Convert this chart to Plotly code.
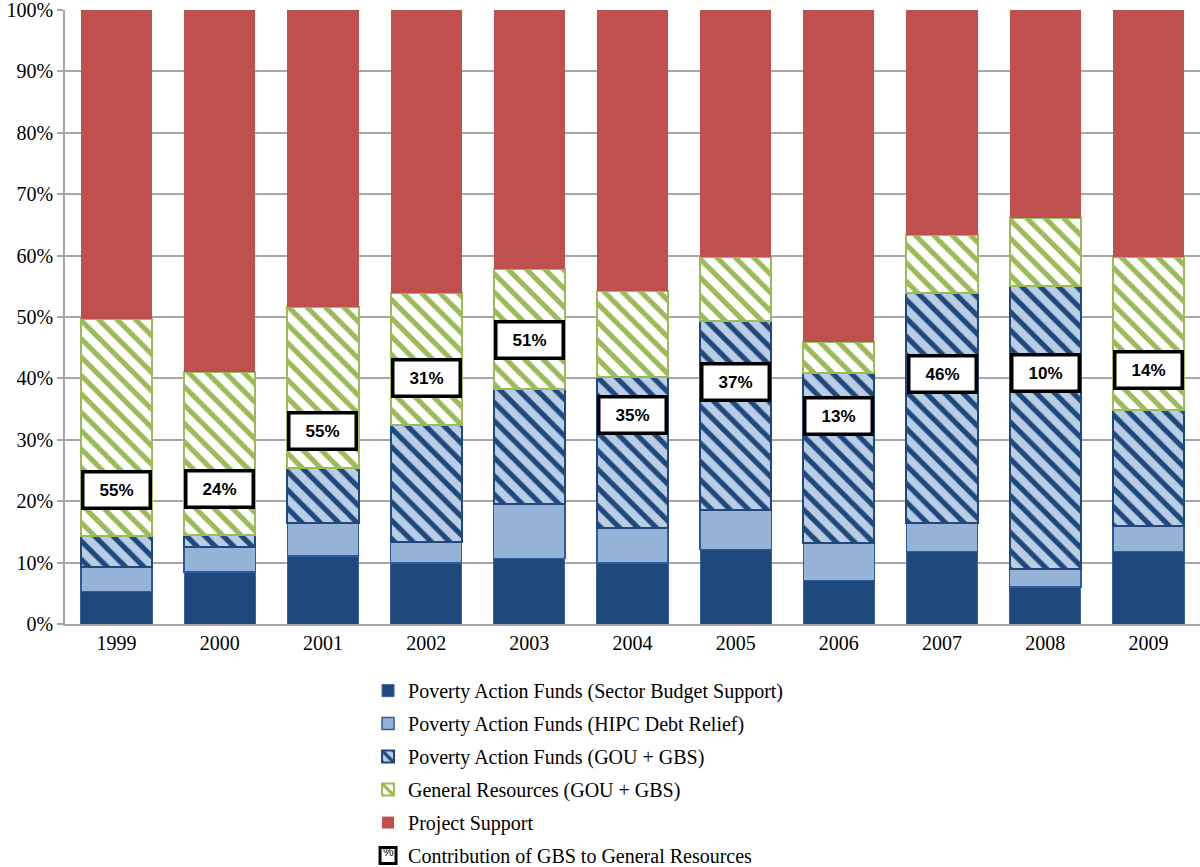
import plotly.graph_objects as go

years = ["1999", "2000", "2001", "2002", "2003", "2004", "2005", "2006", "2007", "2008", "2009"]
paf_sector = [5.3, 8.5, 11.1, 9.9, 10.7, 9.9, 12.1, 7.1, 11.8, 6.0, 11.8]
paf_hipc = [4.0, 4.1, 5.3, 3.5, 8.9, 5.7, 6.4, 6.1, 4.6, 3.0, 4.2]
paf_gou_gbs = [5.0, 1.9, 9.0, 19.0, 18.7, 24.6, 30.8, 27.7, 37.5, 46.0, 18.9]
general_resources = [35.3, 26.6, 26.3, 21.5, 19.5, 14.0, 10.4, 5.1, 9.5, 11.1, 24.8]
project_support = [50.4, 58.9, 48.3, 46.1, 42.2, 45.8, 40.3, 54.0, 36.6, 33.9, 40.3]
gbs_contribution = ["55%", "24%", "55%", "31%", "51%", "35%", "37%", "13%", "46%", "10%", "14%"]
gbs_label_y = [21.8, 22.0, 31.4, 40.1, 46.3, 34.0, 39.4, 33.9, 40.7, 40.8, 41.3]
y_ticks = [0, 10, 20, 30, 40, 50, 60, 70, 80, 90, 100]

DARK = "#1f497d"
LIGHT = "#95b3d7"
HATCH_BG = "#b9cde5"
GREEN = "#9bbb59"
RED = "#c0504d"
SERIF = "Liberation Serif, Times New Roman, serif"

fig = go.Figure()
fig.add_trace(go.Bar(
    x=years, y=paf_sector, name="Poverty Action Funds (Sector Budget Support)",
    legendgroup="a",
    marker=dict(color=DARK, line=dict(color="#3a63a0", width=1)),
))
fig.add_trace(go.Bar(
    x=years, y=paf_hipc, name="Poverty Action Funds (HIPC Debt Relief)",
    legendgroup="b",
    marker=dict(color=LIGHT, line=dict(color="#2c5d9a", width=1.5)),
))
fig.add_trace(go.Bar(
    x=years, y=paf_gou_gbs, name="Poverty Action Funds (GOU + GBS)",
    legendgroup="c",
    marker=dict(color=HATCH_BG, line=dict(color=DARK, width=2),
                pattern=dict(shape="\\", fgcolor=DARK, bgcolor=HATCH_BG,
                             size=13, solidity=0.4, fillmode="replace")),
))
fig.add_trace(go.Bar(
    x=years, y=general_resources, name="General Resources (GOU + GBS)",
    legendgroup="d",
    marker=dict(color="white", line=dict(color=GREEN, width=2),
                pattern=dict(shape="\\", fgcolor=GREEN, bgcolor="white",
                             size=13, solidity=0.4, fillmode="replace")),
))
fig.add_trace(go.Bar(
    x=years, y=project_support, name="Project Support",
    legendgroup="e",
    marker=dict(color=RED, line=dict(width=0)),
))
fig.add_trace(go.Scatter(
    x=[years[0]], y=[None], mode="markers", name="Contribution of GBS to General Resources",
    legendgroup="f",
    marker=dict(symbol="square-open", size=21, color="black", line=dict(color="black", width=3)),
))

for i, (txt, yy) in enumerate(zip(gbs_contribution, gbs_label_y)):
    fig.add_annotation(
        x=i, y=yy, text="<b>%s</b>" % txt, showarrow=False,
        font=dict(family="Arial, Liberation Sans", size=17, color="black"),
        bgcolor="white", bordercolor="black", borderwidth=3.5, borderpad=1,
        width=62, height=31, align="center", valign="middle",
    )

fig.add_annotation(
    xref="paper", yref="paper", x=0.2846, y=-0.3713, xanchor="center", yanchor="middle",
    text="%", showarrow=False,
    font=dict(family="Arial, Liberation Sans", size=12, color="black"),
)

fig.update_layout(
    width=1200, height=867,
    barmode="stack", bargap=0.31,
    plot_bgcolor="white", paper_bgcolor="white",
    margin=dict(l=65, r=0, t=10, b=243, autoexpand=False),
    font=dict(family=SERIF, size=20, color="black"),
    showlegend=True,
    legend=dict(
        x=0.267, y=-0.0767, xanchor="left", yanchor="top",
        traceorder="grouped", tracegroupgap=4,
        font=dict(family=SERIF, size=20, color="black"),
        bgcolor="rgba(0,0,0,0)",
    ),
)
fig.update_yaxes(
    range=[0, 100], tickvals=y_ticks, ticktext=["%d%%" % v for v in y_ticks],
    showgrid=True, gridcolor="#a6a6a6", gridwidth=1.5,
    showline=True, linecolor="#a6a6a6", linewidth=1.5,
    ticks="outside", ticklen=6, tickcolor="#a6a6a6", tickwidth=1.5,
    zeroline=False, automargin=False, ticklabeloverflow="allow",
    tickfont=dict(family=SERIF, size=20, color="black"),
)
fig.update_xaxes(
    type="category", categoryorder="array", categoryarray=years,
    range=[-0.5, len(years) - 0.5],
    showline=True, linecolor="#a6a6a6", linewidth=1.5,
    ticks="", showgrid=False, automargin=False,
    tickfont=dict(family=SERIF, size=20, color="black"),
)

fig.write_html("out.html", config={"displayModeBar": False},
               post_script="document.body.style.margin='0';")
